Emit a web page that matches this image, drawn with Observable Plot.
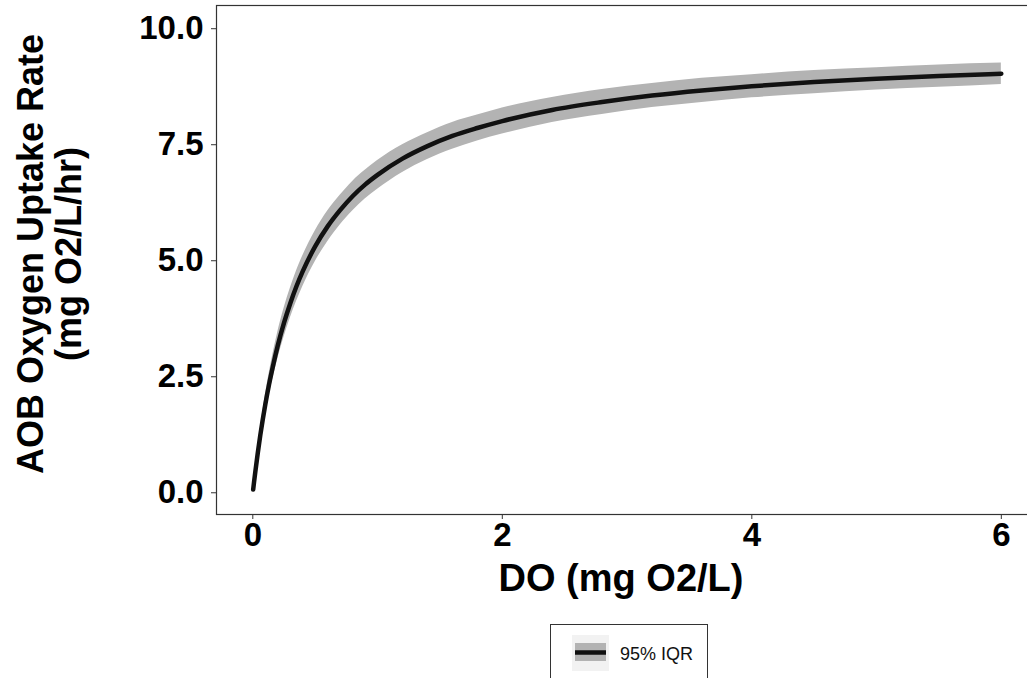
<!DOCTYPE html>
<html><head><meta charset="utf-8">
<script src="https://cdn.jsdelivr.net/npm/d3@7"></script>
<script src="https://cdn.jsdelivr.net/npm/@observablehq/plot@0.6"></script>
<style>
body{margin:0;background:#fff;overflow:hidden;}
#chart{width:1027px;}
#legend{margin-left:550px;margin-top:4px;width:158px;height:60px;border:1px solid #333;border-bottom:none;box-sizing:border-box;display:flex;align-items:flex-start;}
#legend svg{margin-left:21px;margin-top:10px;flex:none;}
#legend span{font-family:"Liberation Sans",Arial,sans-serif;font-size:18px;line-height:18px;color:#111;margin-left:11px;margin-top:20px;white-space:nowrap;}
</style></head><body>
<div id="chart"></div>
<script>
const doValues = [0.003,0.01,0.02,0.04,0.06,0.08,0.1,0.13,0.16,0.2,0.25,0.3,0.35,0.4,0.5,0.6,0.7,0.8,0.9,1.0,1.2,1.4,1.6,1.8,2.0,2.4,2.8,3.2,3.6,4.0,4.5,5.0,5.5,6.0];
const rateMedian = [0.07,0.23,0.45,0.86,1.24,1.58,1.90,2.33,2.71,3.17,3.66,4.08,4.45,4.77,5.31,5.74,6.09,6.39,6.64,6.85,7.20,7.47,7.69,7.86,8.01,8.25,8.42,8.56,8.67,8.76,8.85,8.92,8.98,9.03];
const rateLower = [0.06,0.20,0.39,0.76,1.10,1.41,1.70,2.10,2.45,2.88,3.35,3.76,4.12,4.44,4.98,5.41,5.77,6.07,6.33,6.54,6.90,7.18,7.40,7.58,7.73,7.98,8.15,8.30,8.41,8.51,8.60,8.68,8.74,8.80];
const rateUpper = [0.08,0.26,0.51,0.96,1.38,1.75,2.10,2.56,2.97,3.46,3.97,4.40,4.78,5.10,5.64,6.07,6.41,6.71,6.95,7.16,7.50,7.76,7.98,8.14,8.29,8.52,8.69,8.82,8.93,9.01,9.10,9.16,9.22,9.26];
const xTicks = [0,2,4,6];
const yTicks = [0,2.5,5,7.5,10];
const xTitle = "DO (mg O2/L)";
const yTitle = "AOB Oxygen Uptake Rate\n(mg O2/L/hr)";
const legendLabel = "95% IQR";

const rows = doValues.map((x, i) => ({x, y: rateMedian[i], lo: rateLower[i], hi: rateUpper[i]}));

const tickFont = {fontFamily: "Liberation Sans", fontWeight: "bold", fontSize: 33, fill: "#000"};

const chart = Plot.plot({
  width: 1027,
  height: 620,
  marginLeft: 216,
  marginRight: -10,
  marginTop: 5,
  marginBottom: 106,
  x: {domain: [-0.291, 6.29]},
  y: {domain: [-0.468, 10.5]},
  style: {background: "#fff", color: "#333"},
  marks: [
    Plot.areaY(rows, {x: "x", y1: "lo", y2: "hi", fill: "#b3b3b3", curve: "monotone-x"}),
    Plot.line(rows, {x: "x", y: "y", stroke: "#111", strokeWidth: 4.5, curve: "monotone-x"}),
    Plot.frame({stroke: "#333", strokeWidth: 1.2}),
    Plot.axisX({ticks: xTicks, tickFormat: d => d.toFixed(0), tickSize: 5, tickPadding: 3, label: null, stroke: "#333", ...tickFont}),
    Plot.axisY({ticks: yTicks, tickFormat: d => d.toFixed(1), tickSize: 5, tickPadding: 8, label: null, stroke: "#333", ...tickFont}),
    Plot.text([xTitle], {frameAnchor: "bottom", dy: 76, dx: -6, fontFamily: "Liberation Sans", fontWeight: "bold", fontSize: 38, fill: "#000"}),
    Plot.text([yTitle], {frameAnchor: "left", textAnchor: "middle", rotate: -90, dx: -167, dy: -6, lineHeight: 1.05, fontFamily: "Liberation Sans", fontWeight: "bold", fontSize: 36, fill: "#000"})
  ]
});
document.getElementById("chart").appendChild(chart);

const legend = document.createElement("div");
legend.id = "legend";
const ns = "http://www.w3.org/2000/svg";
const key = document.createElementNS(ns, "svg");
key.setAttribute("width", 37);
key.setAttribute("height", 36);
const bg = document.createElementNS(ns, "rect");
bg.setAttribute("width", 37); bg.setAttribute("height", 36); bg.setAttribute("fill", "#f2f2f2");
const band = document.createElementNS(ns, "rect");
band.setAttribute("x", 3); band.setAttribute("y", 8); band.setAttribute("width", 31); band.setAttribute("height", 18); band.setAttribute("fill", "#b3b3b3");
const ln = document.createElementNS(ns, "line");
ln.setAttribute("x1", 3); ln.setAttribute("x2", 34); ln.setAttribute("y1", 17.5); ln.setAttribute("y2", 17.5);
ln.setAttribute("stroke", "#111"); ln.setAttribute("stroke-width", 4.5);
key.append(bg, band, ln);
const label = document.createElement("span");
label.textContent = legendLabel;
legend.append(key, label);
document.body.appendChild(legend);
</script>
</body></html>
